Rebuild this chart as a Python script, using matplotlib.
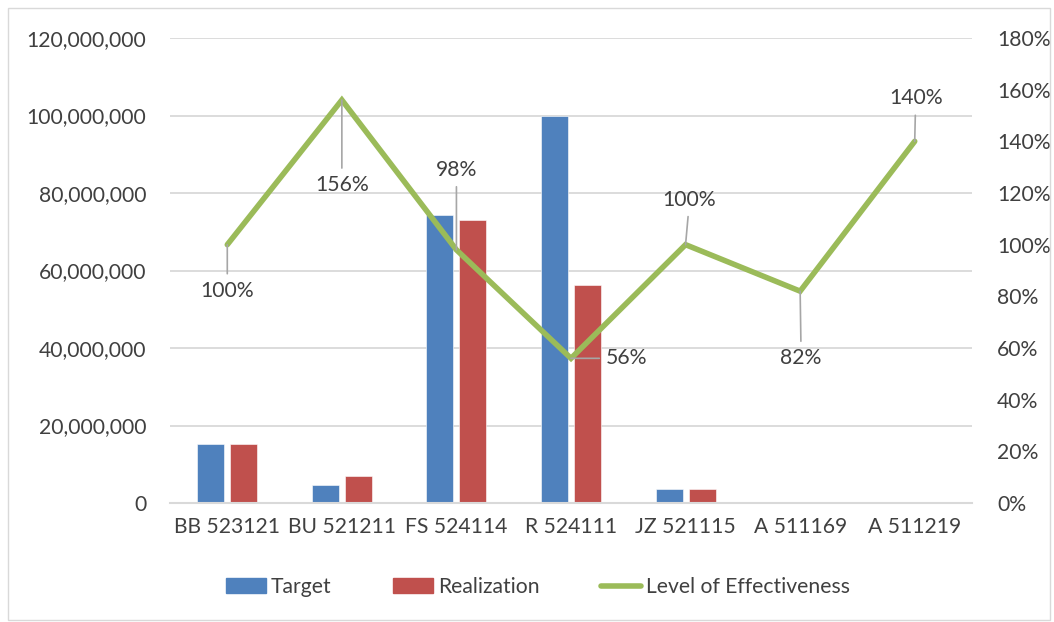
import numpy as np
import matplotlib
matplotlib.use("Agg")
import matplotlib.pyplot as plt
from matplotlib.patches import Rectangle
from matplotlib.lines import Line2D
from matplotlib.ticker import FuncFormatter, MultipleLocator

plt.rcParams['font.family'] = ['Lato', 'DejaVu Sans']

# data
categories = ["BB 523121", "BU 521211", "FS 524114", "R 524111",
              "JZ 521115", "A 511169", "A 511219"]
target = [15200000, 4600000, 74300000, 100000000, 3600000, 0, 0]
realization = [15100000, 7000000, 73000000, 56300000, 3600000, 0, 0]
effectiveness = [1.00, 1.56, 0.98, 0.56, 1.00, 0.82, 1.40]
eff_labels = ["100%", "156%", "98%", "56%", "100%", "82%", "140%"]

# label offsets in pixels (dx, dy) relative to each point
label_offsets = [(0, -46), (0, -85), (0, 80), (56, 0), (4, 45), (1, -67), (1, 43)]

BLUE = "#4F81BD"
RED = "#C0504D"
GREEN = "#9BBB59"
TEXT = "#404040"
GRID = "#D9D9D9"
FS = 15.2

fig = plt.figure(figsize=(10.54, 6.22), dpi=100)
ax = fig.add_axes([170/1054, 1 - 503/622, (972-170)/1054, (503-38)/622])
ax2 = ax.twinx()

x = np.arange(len(categories))
w = 0.235
off = 0.144
ax.bar(x - off, target, w, color=BLUE, edgecolor="white", linewidth=0.4, zorder=2)
ax.bar(x + off, realization, w, color=RED, edgecolor="white", linewidth=0.4, zorder=2)

ax.set_xlim(-0.5, len(categories) - 0.5)
ax.set_ylim(0, 120000000)
ax.yaxis.set_major_locator(MultipleLocator(20000000))
ax.yaxis.set_major_formatter(FuncFormatter(lambda v, p: f"{int(v):,}"))
ax.set_xticks(x)
ax.set_xticklabels(categories)
ax.grid(axis="y", color=GRID, linewidth=1.3, zorder=0)
ax.set_axisbelow(True)

for s in ["top", "left", "right"]:
    ax.spines[s].set_visible(False)
    ax2.spines[s].set_visible(False)
ax.spines["bottom"].set_color(GRID)
ax.spines["bottom"].set_linewidth(1.5)
ax2.spines["bottom"].set_visible(False)

ax.tick_params(axis="y", length=0, pad=17, labelsize=FS, labelcolor=TEXT)
ax.tick_params(axis="x", length=0, pad=10, labelsize=FS, labelcolor=TEXT)

ax2.plot(x, effectiveness, color=GREEN, linewidth=4, solid_capstyle="round",
         solid_joinstyle="miter", zorder=3)
ax2.set_ylim(0, 1.8)
ax2.yaxis.set_major_locator(MultipleLocator(0.2))
ax2.yaxis.set_major_formatter(FuncFormatter(lambda v, p: f"{v*100:.0f}%"))
ax2.tick_params(axis="y", length=0, pad=18, labelsize=FS, labelcolor=TEXT)

for xi, yi, lab, (dx, dy) in zip(x, effectiveness, eff_labels, label_offsets):
    ax2.annotate(lab, xy=(xi, yi), xytext=(dx, dy), textcoords="offset pixels",
                 ha="center", va="center", fontsize=FS, color=TEXT,
                 arrowprops=dict(arrowstyle="-", color="#A6A6A6", lw=1.2,
                                 shrinkA=3, shrinkB=0))

handles = [Rectangle((0, 0), 1, 1, color=BLUE),
           Rectangle((0, 0), 1, 1, color=RED),
           Line2D([0], [0], color=GREEN, linewidth=4, solid_capstyle="round")]
fig.legend(handles, ["Target", "Realization", "Level of Effectiveness"],
           loc="center", bbox_to_anchor=(538/1054, 1 - 587/622), ncol=3,
           frameon=False, fontsize=FS, handlelength=1.9, handleheight=0.66,
           columnspacing=2.9, handletextpad=0.25, labelcolor=TEXT)

# chart border
fig.patches.append(Rectangle((8/1054, 2/622), 1042/1054, 612/622,
                             transform=fig.transFigure, fill=False,
                             edgecolor=GRID, linewidth=1))

fig.savefig("out.png", dpi=100)
